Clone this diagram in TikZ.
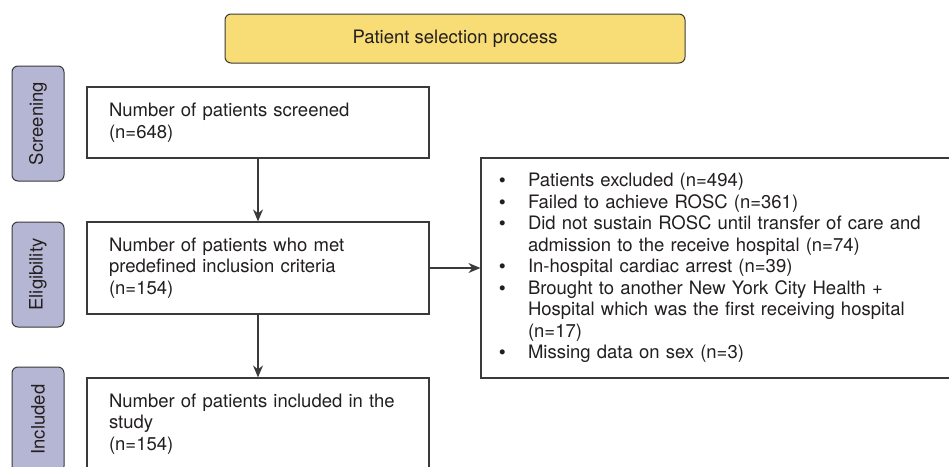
\documentclass[tikz,border=0pt]{standalone}
\usepackage{fontspec}
\setmainfont{TeX Gyre Heros}
\newfontfamily\bulletfont{Liberation Sans}
\usetikzlibrary{arrows.meta,calc}

\definecolor{titleyellow}{HTML}{F8DD76}
\definecolor{stagelav}{HTML}{B5B6D3}
\definecolor{linegray}{HTML}{3A3A3A}
\definecolor{textgray}{HTML}{231F20}

\newcommand{\exclitem}[1]{\makebox[29pt][l]{\bulletfont\textbullet}#1}
\newcommand{\exclcont}[1]{\hspace*{29pt}#1}

\begin{document}
\begin{tikzpicture}[x=1pt,y=-1pt,
    every node/.style={font=\fontsize{18.5}{21.5}\selectfont, text=textgray},
    stage/.style={draw=linegray, line width=1pt, fill=stagelav, rounded corners=6pt,
        rotate=90, minimum height=52pt, inner sep=0pt},
    flowbox/.style={draw=linegray, line width=1.2pt, fill=white, minimum width=342pt,
        text width=298pt, align=left, inner xsep=22pt, inner ysep=0pt},
    flowarrow/.style={draw=linegray, line width=1.2pt, -{Stealth[length=12pt,width=10pt]}}]

    % Frame of the picture
    \useasboundingbox (0,0) rectangle (949,466);
    \clip (0,0) rectangle (949,466);

    % Title on top
    \node[draw=linegray, line width=1pt, fill=titleyellow, rounded corners=6pt,
        minimum width=460pt, minimum height=49pt] (title) at (455,38.5) {Patient selection process};

    % Stages on the left
    \node[stage, minimum width=115pt] (screening) at (38,123.5) {Screening};
    \node[stage, minimum width=105pt] (eligibility) at (38,274.5) {Eligibility};
    \node[stage, minimum width=105pt] (included) at (38,419.5) {Included};

    % Boxes of the flow
    \node[flowbox, minimum height=71pt] (screened) at (258,122.5)
        {Number of patients screened\\(n=648)};
    \node[flowbox, minimum height=92pt] (met) at (258,268)
        {Number of patients who met\\predefined inclusion criteria\\(n=154)};
    \node[flowbox, minimum height=92pt] (study) at (258,424)
        {Number of patients included in the\\study\\(n=154)};

    % Excluded patients
    \node[draw=linegray, line width=1.2pt, fill=white, minimum width=484pt, minimum height=220pt,
        text width=448pt, align=left, inner xsep=18pt, inner ysep=0pt] (excluded) at (723,268)
        {\exclitem{Patients excluded (n=494)}\\
         \exclitem{Failed to achieve ROSC (n=361)}\\
         \exclitem{Did not sustain ROSC until transfer of care and}\\
         \exclcont{admission to the receive hospital (n=74)}\\
         \exclitem{In-hospital cardiac arrest (n=39)}\\
         \exclitem{Brought to another New York City Health +}\\
         \exclcont{Hospital which was the first receiving hospital}\\
         \exclcont{(n=17)}\\
         \exclitem{Missing data on sex (n=3)}};

    % Draw arrows
    \draw[flowarrow] (screened.south) -- (met.north);
    \draw[flowarrow] (met.south) -- (study.north);
    \draw[flowarrow] (met.east) -- (met.east -| excluded.west);

\end{tikzpicture}
\end{document}
